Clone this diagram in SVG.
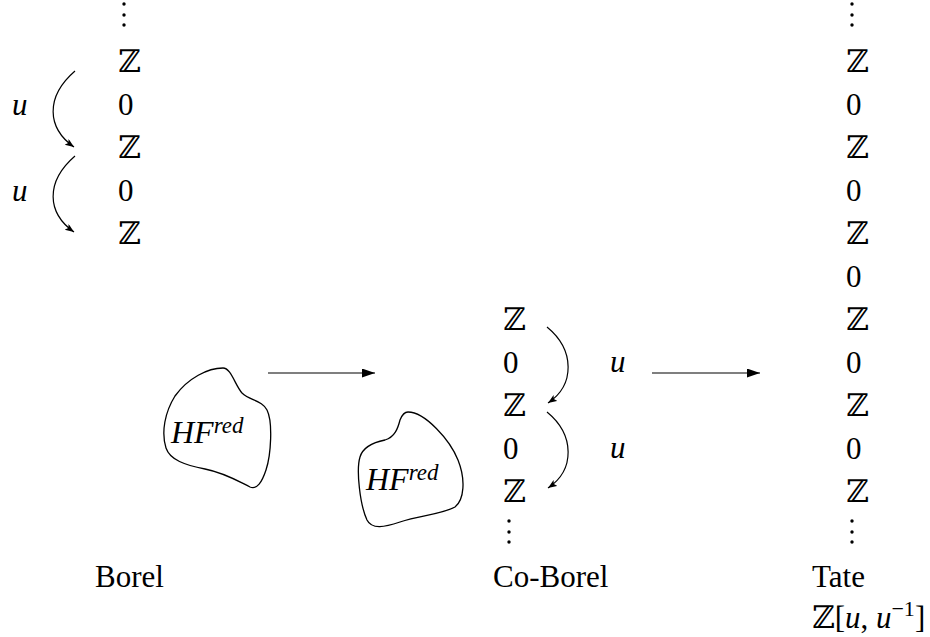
<svg xmlns="http://www.w3.org/2000/svg" width="930" height="637" viewBox="0 0 930 637">
<defs>
<style>
text{font-family:"Liberation Serif","DejaVu Serif",serif;font-size:31px;fill:#000}
.m{font-style:italic}
.hf{font-style:italic;font-size:32px}
.sup{font-size:23px;font-style:italic}
.dot{fill:#000}
.conn{fill:none;stroke:#000;stroke-width:1.2}
.blob{fill:none;stroke:#000;stroke-width:1.3}
</style>
<marker id="ah" markerUnits="userSpaceOnUse" markerWidth="14" markerHeight="10" refX="13" refY="4.5" orient="auto"><path d="M0,0 L13,4.5 L0,9 Z" fill="#000"/></marker>
<marker id="ahs" markerUnits="userSpaceOnUse" markerWidth="10" markerHeight="8" refX="9" refY="3.5" orient="auto"><path d="M0,0 L9,3.5 L0,7 L2,3.5 Z" fill="#000"/></marker>
</defs>
<rect width="930" height="637" fill="#fff"/>

<g id="borel-column">
<circle class="dot" cx="124" cy="4" r="1.7"/><circle class="dot" cx="124" cy="15" r="1.7"/><circle class="dot" cx="124" cy="25" r="1.7"/>
<text x="118" y="72">ℤ</text>
<text x="118" y="115">0</text>
<text x="118" y="158">ℤ</text>
<text x="118" y="201">0</text>
<text x="118" y="244">ℤ</text>
<text class="m" x="12" y="115">u</text>
<text class="m" x="12" y="201">u</text>
</g>

<g id="coborel-column">
<text x="503" y="330">ℤ</text>
<text x="503" y="373">0</text>
<text x="503" y="416">ℤ</text>
<text x="503" y="459">0</text>
<text x="503" y="502">ℤ</text>
<circle class="dot" cx="509" cy="521" r="1.7"/><circle class="dot" cx="509" cy="532" r="1.7"/><circle class="dot" cx="509" cy="542" r="1.7"/>
<text class="m" x="610" y="372">u</text>
<text class="m" x="610" y="458">u</text>
</g>

<g id="tate-column">
<circle class="dot" cx="852" cy="4" r="1.7"/><circle class="dot" cx="852" cy="15" r="1.7"/><circle class="dot" cx="852" cy="25" r="1.7"/>
<text x="846" y="72">ℤ</text>
<text x="846" y="115">0</text>
<text x="846" y="158">ℤ</text>
<text x="846" y="201">0</text>
<text x="846" y="244">ℤ</text>
<text x="846" y="287">0</text>
<text x="846" y="330">ℤ</text>
<text x="846" y="373">0</text>
<text x="846" y="416">ℤ</text>
<text x="846" y="459">0</text>
<text x="846" y="502">ℤ</text>
<circle class="dot" cx="852" cy="521" r="1.7"/><circle class="dot" cx="852" cy="532" r="1.7"/><circle class="dot" cx="852" cy="542" r="1.7"/>
</g>

<g id="blob-borel">
<path class="blob" d="M223,368 C231,368 235,385 242,393 C250,401 262,400 267,410 C273,422 271,455 266,470 C262,482 257,490 250,487 C238,481 225,473 205,469 C185,465 170,460 166,448 C161,432 165,412 175,396 C188,378 208,368 223,368 Z"/>
<text class="hf" x="171" y="443">HF<tspan class="sup" dy="-10">red</tspan></text>
</g>

<g id="blob-coborel">
<path class="blob" d="M408,412 C425,412 450,440 458,460 C466,480 464,500 455,507 C440,515 420,515 400,522 C385,527 372,530 367,520 C360,505 356,470 360,457 C363,447 375,442 385,440 C395,437 398,428 400,420 C402,415 404,412 408,412 Z"/>
<text class="hf" x="366" y="490">HF<tspan class="sup" dy="-10">red</tspan></text>
</g>

<g id="labels">
<text x="95" y="587">Borel</text>
<text x="493" y="587">Co-Borel</text>
<text x="812" y="587">Tate</text>
<text x="812" y="628">ℤ[<tspan class="m">u</tspan>, <tspan class="m">u</tspan><tspan font-size="22px" dy="-12">−1</tspan><tspan dy="12">]</tspan></text>
</g>

<g id="connectors">
<path class="conn" d="M75,71 C45,97 47,128 74,147" marker-end="url(#ahs)"/>
<path class="conn" d="M75,156 C45,182 47,213 74,232" marker-end="url(#ahs)"/>
<path class="conn" d="M547,327 C575,350 575,385 548,403" marker-end="url(#ahs)"/>
<path class="conn" d="M547,412 C575,435 575,470 548,488" marker-end="url(#ahs)"/>
<line class="conn" x1="268" y1="373" x2="375" y2="373" marker-end="url(#ah)"/>
<line class="conn" x1="652" y1="373" x2="760" y2="373" marker-end="url(#ah)"/>
</g>
</svg>
